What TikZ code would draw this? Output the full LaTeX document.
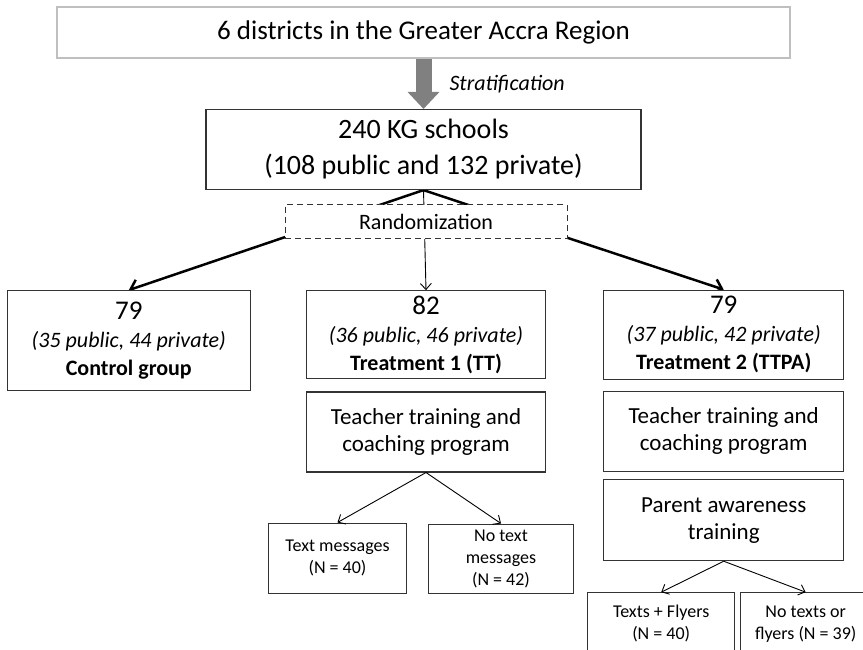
\documentclass[tikz,border=0pt]{standalone}
\usepackage{fontspec}
\setmainfont{Carlito}
\usetikzlibrary{positioning, arrows.meta, backgrounds}

\begin{document}
\begin{tikzpicture}[
    x=1pt, y=1pt,
    box/.style={
        rectangle,
        draw=black!80,
        line width=1.2pt,
        inner sep=0pt,
        fill=white,
        align=center
    },
    groupbox/.style={
        box,
        minimum height=88pt,
        font=\fontsize{22}{28}\selectfont
    },
    stagebox/.style={
        box,
        minimum width=239pt,
        minimum height=80pt,
        font=\fontsize{23}{27}\selectfont
    },
    armbox/.style={
        box,
        font=\fontsize{18}{22}\selectfont
    },
    bigarrow/.style={-{Straight Barb[length=8pt,width=15pt]}, line width=2.5pt, black},
    thinarrow/.style={-{Straight Barb[length=6pt,width=11pt]}, line width=0.9pt, black}
]
    \useasboundingbox (0,0) rectangle (863,-649);

    % Sampling
    \node[box, draw=black!25, line width=1.8pt, minimum width=733pt, minimum height=51pt,
          font=\fontsize{27}{32}\selectfont] (region) at (423.5,-32.5) {6 districts in the Greater Accra Region};
    \node[box, minimum width=435pt, minimum height=80pt, font=\fontsize{28}{36}\selectfont,
          below=50pt of region] (schools) {240 KG schools\\(108 public and 132 private)};
    \draw[-{Triangle[length=17pt,width=32pt,line width=0pt]}, line width=16pt, black!50] (region) --
        node[right=18pt, inner sep=0pt, text=black, font=\fontsize{22}{26}\selectfont\itshape] {Stratification} (schools);

    % Randomization
    \node[box, dashed, dash pattern=on 6pt off 4pt, line width=1pt, minimum width=282pt, minimum height=34pt,
          font=\fontsize{22}{26}\selectfont, below=14pt of schools, xshift=2.5pt] (random) {Randomization};

    % Groups
    \node[groupbox, minimum width=239pt, below=51pt of random] (tt)
        {{\fontsize{27}{28}\selectfont 82}\\\textit{(36 public, 46 private)}\\\textbf{Treatment 1 (TT)}};
    \node[groupbox, minimum width=243pt, minimum height=100pt, left=55pt of tt.north west, anchor=north east] (control)
        {{\fontsize{27}{28}\selectfont 79}\\\textit{(35 public, 44 private)}\\\textbf{Control group}};
    \node[groupbox, minimum width=240pt, minimum height=89pt, right=57pt of tt] (ttpa)
        {{\fontsize{27}{28}\selectfont 79}\\\textit{(37 public, 42 private)}\\\textbf{Treatment 2 (TTPA)}};

    \begin{scope}[on background layer]
        \draw[bigarrow] (schools.south) -- (control.north);
        \draw[thinarrow] (schools.south) -- (tt.north);
        \draw[bigarrow] (schools.south) -- (ttpa.north);
    \end{scope}

    % Interventions
    \node[stagebox, below=12pt of tt] (ttcoach) {Teacher training and\\coaching program};
    \node[stagebox, minimum width=240pt, below=11pt of ttpa] (ttpacoach) {Teacher training and\\coaching program};
    \node[stagebox, minimum width=240pt, minimum height=81pt, below=7pt of ttpacoach] (parent) {Parent awareness\\training};

    % Sub-arms
    \node[armbox, minimum width=138pt, minimum height=70pt, below=50pt of ttcoach, xshift=-88.5pt] (sms) {Text messages\\(N = 40)};
    \node[armbox, minimum width=145pt, minimum height=69pt, below=51pt of ttcoach, xshift=75pt] (nosms) {No text\\messages\\(N = 42)};
    \node[armbox, minimum width=147pt, minimum height=61pt, below=31pt of parent, xshift=-62.5pt] (flyers) {Texts + Flyers\\(N = 40)};
    \node[armbox, minimum width=130pt, minimum height=62pt, below=31pt of parent, xshift=82pt] (noflyers) {No texts or\\flyers (N = 39)};

    \draw[thinarrow] (ttcoach.south) -- (sms.north);
    \draw[thinarrow] (ttcoach.south) -- (nosms.north);
    \draw[thinarrow] (parent.south) -- (flyers.north);
    \draw[thinarrow] (parent.south) -- (noflyers.north);
\end{tikzpicture}
\end{document}
